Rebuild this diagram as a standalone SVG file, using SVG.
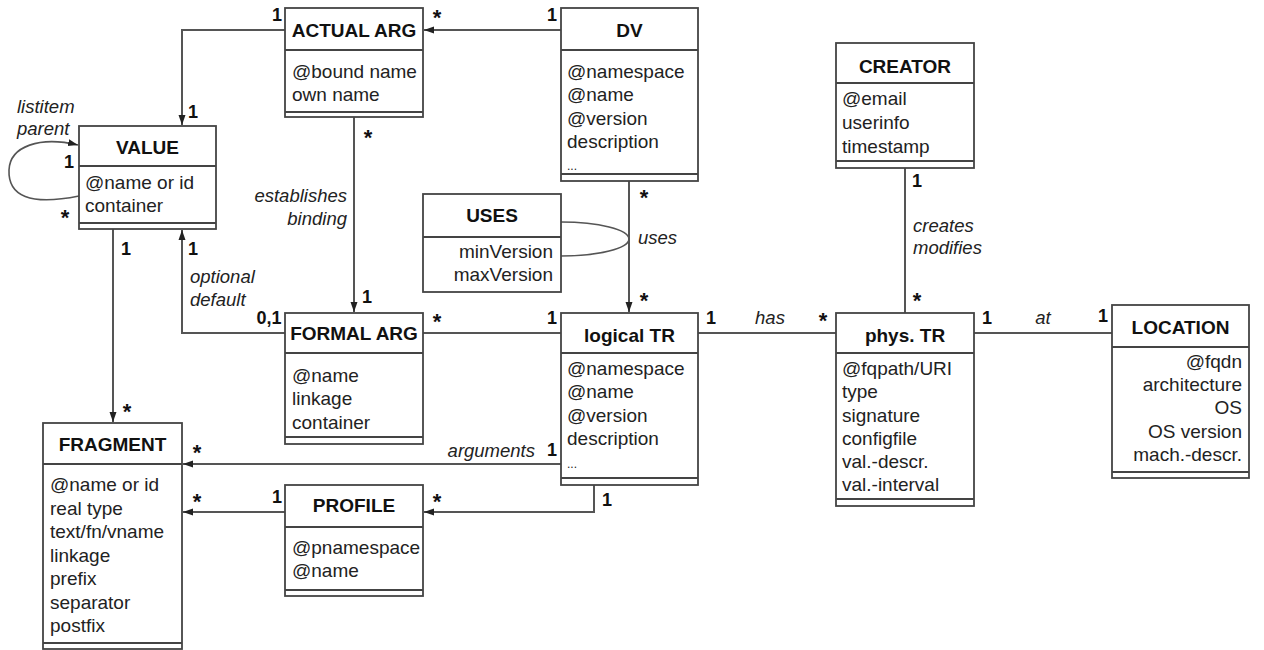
<svg xmlns="http://www.w3.org/2000/svg" width="1264" height="650" viewBox="0 0 1264 650">
<style>
.box{fill:#fff;stroke:#444;stroke-width:1.8}
.sep{stroke:#444;stroke-width:1.8;fill:none}
.t{font-family:"Liberation Sans",Arial,sans-serif;font-size:19px;font-weight:bold;fill:#111;text-anchor:middle}
.a{font-family:"Liberation Sans",Arial,sans-serif;font-size:19px;fill:#222}
.r{text-anchor:end}
.ln{stroke:#555;stroke-width:2;fill:none}
.m{font-family:"Liberation Sans",Arial,sans-serif;font-size:18px;font-weight:bold;fill:#111;text-anchor:middle}
.s{font-family:"Liberation Sans",Arial,sans-serif;font-size:22px;font-weight:bold;fill:#111;text-anchor:middle}
.i{font-family:"Liberation Sans",Arial,sans-serif;font-size:18.5px;font-style:italic;fill:#222}
</style>
<defs>
<marker id="arr" markerUnits="userSpaceOnUse" markerWidth="10" markerHeight="10" viewBox="0 0 10 10" refX="10" refY="5" orient="auto">
<path d="M0,1.5 L10,5 L0,8.5 Z" fill="#222"/>
</marker>
</defs>
<rect width="1264" height="650" fill="#fff"/>

<g id="connectors">
<path class="ln" d="M285,30 H182 V125" marker-end="url(#arr)"/>
<path class="ln" d="M561,30 H424" marker-end="url(#arr)"/>
<path class="ln" d="M354,117 V312" marker-end="url(#arr)"/>
<path class="ln" d="M285,333 H182 V230" marker-end="url(#arr)"/>
<path class="ln" d="M113,229 V422" marker-end="url(#arr)"/>
<path class="ln" d="M423,333 H561"/>
<path class="ln" d="M629,181 V312" marker-end="url(#arr)"/>
<path class="ln" style="stroke-width:1.6" d="M561,222 A68,17 0 0 1 561,256"/>
<path class="ln" d="M561,464 H183" marker-end="url(#arr)"/>
<path class="ln" d="M594,485 V512 H424" marker-end="url(#arr)"/>
<path class="ln" d="M285,512 H183" marker-end="url(#arr)"/>
<path class="ln" d="M698,333 H836"/>
<path class="ln" d="M905,168 V313"/>
<path class="ln" d="M974,333 H1112"/>
<path class="ln" style="stroke-width:1.6" d="M79,196 C30,206 8,196 9,170 C10,146 40,136 78,145" marker-end="url(#arr)"/>
<text class="m" x="277" y="21">1</text>
<text class="m" x="193" y="118">1</text>
<text class="m" x="69" y="168">1</text>
<text class="s" x="65" y="225">*</text>
<text class="i" x="17" y="113">listitem</text>
<text class="i" x="17" y="135">parent</text>
<text class="s" x="368" y="145">*</text>
<text class="m" x="367" y="303">1</text>
<text class="i r" x="347" y="202">establishes</text>
<text class="i r" x="347" y="225">binding</text>
<text class="m" x="126" y="255">1</text>
<text class="m" x="193" y="255">1</text>
<text class="i" x="190" y="283">optional</text>
<text class="i" x="190" y="306">default</text>
<text class="m" x="269" y="324">0,1</text>
<text class="s" x="127" y="419">*</text>
<text class="s" x="197" y="460">*</text>
<text class="s" x="197" y="509">*</text>
<text class="m" x="277" y="503">1</text>
<text class="s" x="437" y="25">*</text>
<text class="m" x="552" y="21">1</text>
<text class="s" x="644" y="205">*</text>
<text class="i" x="638" y="244">uses</text>
<text class="s" x="644" y="308">*</text>
<text class="s" x="437" y="329">*</text>
<text class="m" x="552" y="324">1</text>
<text class="i r" x="535" y="457">arguments</text>
<text class="m" x="552" y="456">1</text>
<text class="m" x="607" y="506">1</text>
<text class="s" x="437" y="509">*</text>
<text class="m" x="711" y="324">1</text>
<text class="i" x="770" y="324" text-anchor="middle">has</text>
<text class="s" x="823" y="328">*</text>
<text class="m" x="917" y="187">1</text>
<text class="i" x="913" y="232">creates</text>
<text class="i" x="913" y="254">modifies</text>
<text class="s" x="917" y="308">*</text>
<text class="m" x="987" y="324">1</text>
<text class="i" x="1043" y="324" text-anchor="middle">at</text>
<text class="m" x="1103" y="322">1</text>
</g>

<g id="actual-arg">
<rect class="box" x="285" y="8" width="138" height="109"/>
<path class="sep" d="M285,50 H423 M285,112 H423"/>
<text class="t" x="354" y="37">ACTUAL ARG</text>
<text class="a" x="292" y="78">@bound name</text>
<text class="a" x="292" y="101">own name</text>
</g>

<g id="value">
<rect class="box" x="79" y="126" width="137" height="103"/>
<path class="sep" d="M79,166 H216 M79,223 H216"/>
<text class="t" x="147.5" y="154">VALUE</text>
<text class="a" x="85" y="189">@name or id</text>
<text class="a" x="85" y="212">container</text>
</g>

<g id="dv">
<rect class="box" x="561" y="8" width="137" height="173"/>
<path class="sep" d="M561,50 H698 M561,174 H698"/>
<text class="t" x="629.5" y="37">DV</text>
<text class="a" x="567" y="78">@namespace</text>
<text class="a" x="567" y="101">@name</text>
<text class="a" x="567" y="125">@version</text>
<text class="a" x="567" y="148">description</text>
<text class="a" x="567" y="170" style="font-size:12px">...</text>
</g>

<g id="uses">
<rect class="box" x="423" y="194" width="138" height="98"/>
<path class="sep" d="M423,237 H561"/>
<text class="t" x="492" y="222">USES</text>
<text class="a r" x="553" y="258">minVersion</text>
<text class="a r" x="553" y="281">maxVersion</text>
</g>

<g id="creator">
<rect class="box" x="836" y="43" width="138" height="125"/>
<path class="sep" d="M836,83 H974 M836,161 H974"/>
<text class="t" x="905" y="73">CREATOR</text>
<text class="a" x="842" y="105">@email</text>
<text class="a" x="842" y="129">userinfo</text>
<text class="a" x="842" y="153">timestamp</text>
</g>

<g id="formal-arg">
<rect class="box" x="285" y="313" width="138" height="131"/>
<path class="sep" d="M285,353 H423 M285,437 H423"/>
<text class="t" x="354" y="340">FORMAL ARG</text>
<text class="a" x="292" y="382">@name</text>
<text class="a" x="292" y="405">linkage</text>
<text class="a" x="292" y="429">container</text>
</g>

<g id="logical-tr">
<rect class="box" x="561" y="313" width="137" height="172"/>
<path class="sep" d="M561,353 H698 M561,478 H698"/>
<text class="t" x="629.5" y="342">logical TR</text>
<text class="a" x="567" y="375">@namespace</text>
<text class="a" x="567" y="398">@name</text>
<text class="a" x="567" y="422">@version</text>
<text class="a" x="567" y="445">description</text>
<text class="a" x="567" y="468" style="font-size:12px">...</text>
</g>

<g id="phys-tr">
<rect class="box" x="836" y="313" width="138" height="193"/>
<path class="sep" d="M836,353 H974 M836,499 H974"/>
<text class="t" x="905" y="342">phys. TR</text>
<text class="a" x="842" y="375">@fqpath/URI</text>
<text class="a" x="842" y="398">type</text>
<text class="a" x="842" y="422">signature</text>
<text class="a" x="842" y="445">configfile</text>
<text class="a" x="842" y="468">val.-descr.</text>
<text class="a" x="842" y="491">val.-interval</text>
</g>

<g id="location">
<rect class="box" x="1112" y="305" width="137" height="173"/>
<path class="sep" d="M1112,347 H1249 M1112,472 H1249"/>
<text class="t" x="1180.5" y="334">LOCATION</text>
<text class="a r" x="1242" y="368">@fqdn</text>
<text class="a r" x="1242" y="391">architecture</text>
<text class="a r" x="1242" y="414">OS</text>
<text class="a r" x="1242" y="438">OS version</text>
<text class="a r" x="1242" y="461">mach.-descr.</text>
</g>

<g id="fragment">
<rect class="box" x="43" y="423" width="139" height="226"/>
<path class="sep" d="M43,464 H182 M43,643 H182"/>
<text class="t" x="112.5" y="451">FRAGMENT</text>
<text class="a" x="50" y="491">@name or id</text>
<text class="a" x="50" y="515">real type</text>
<text class="a" x="50" y="538">text/fn/vname</text>
<text class="a" x="50" y="562">linkage</text>
<text class="a" x="50" y="585">prefix</text>
<text class="a" x="50" y="609">separator</text>
<text class="a" x="50" y="632">postfix</text>
</g>

<g id="profile">
<rect class="box" x="285" y="485" width="138" height="111"/>
<path class="sep" d="M285,527 H423 M285,590 H423"/>
<text class="t" x="354" y="512">PROFILE</text>
<text class="a" x="292" y="554">@pnamespace</text>
<text class="a" x="292" y="577">@name</text>
</g>
</svg>
